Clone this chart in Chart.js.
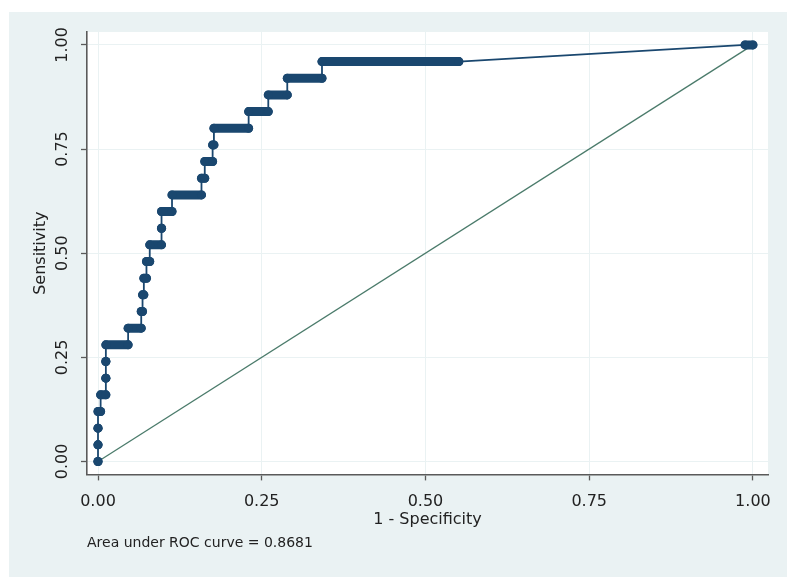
<!DOCTYPE html>
<html><head><meta charset="utf-8">
<script src="https://cdn.jsdelivr.net/npm/chart.js@4/dist/chart.umd.min.js"></script>
<style>html,body{margin:0;padding:0;background:#fff}canvas{display:block}</style>
</head><body>
<canvas id="c" width="800" height="588"></canvas>
<script>
// Sensitivity levels of the empirical ROC curve (25 positives -> steps of 0.04)
const sensitivity = [0, 0.04, 0.08, 0.12, 0.16, 0.20, 0.24, 0.28, 0.32, 0.36, 0.40, 0.44, 0.48,
  0.52, 0.56, 0.60, 0.64, 0.68, 0.72, 0.76, 0.80, 0.84, 0.88, 0.92, 0.96, 1.00];
// 1 - specificity where each sensitivity level starts and ends
const fprStart = [0, 0, 0, 0, 0.004, 0.012, 0.012, 0.012, 0.046, 0.066, 0.068, 0.070, 0.074,
  0.079, 0.097, 0.097, 0.113, 0.158, 0.163, 0.175, 0.177, 0.230, 0.260, 0.289, 0.342, 0.988];
const fprEnd = [0, 0, 0, 0.004, 0.012, 0.012, 0.012, 0.046, 0.066, 0.068, 0.070, 0.074, 0.079,
  0.097, 0.097, 0.113, 0.158, 0.163, 0.175, 0.177, 0.230, 0.260, 0.289, 0.342, 0.551, 1.000];
// Reference (chance) line
const refX = [0, 1];
const refY = [0, 1];
// Axis ticks
const tickValues = [0, 0.25, 0.5, 0.75, 1];
const tickLabels = ['0.00', '0.25', '0.50', '0.75', '1.00'];
const xTitle = '1 - Specificity';
const yTitle = 'Sensitivity';
const noteText = 'Area under ROC curve = 0.8681';

const NAVY = '#1a476f';
const REFCOL = '#4b7b6b';
const AXIS = '#5a5a5a';
const TEXT = '#222222';
const PANEL = '#eaf2f3';
const FONT = 'DejaVu Sans';

const runData = [];
const rocData = [];
sensitivity.forEach((s, i) => {
  runData.push({x: fprStart[i], y: s}, {x: fprEnd[i], y: s}, {x: fprEnd[i], y: null});
  rocData.push({x: fprStart[i], y: s}, {x: fprEnd[i], y: s});
});
const refData = refX.map((x, i) => ({x, y: refY[i]}));

const panelPlugin = {
  id: 'panel',
  beforeDraw(chart) {
    const {ctx, chartArea: a} = chart;
    ctx.save();
    ctx.fillStyle = '#ffffff';
    ctx.fillRect(0, 0, chart.width, chart.height);
    ctx.fillStyle = PANEL;
    ctx.fillRect(9, 12, 778, 565);
    ctx.fillStyle = '#ffffff';
    ctx.fillRect(a.left, a.top, a.right - a.left, a.bottom - a.top);
    ctx.restore();
  }
};

const setTicks = s => { s.ticks = tickValues.map(v => ({value: v})); };

new Chart(document.getElementById('c'), {
  type: 'line',
  data: {
    datasets: [
      {
        label: 'markers', data: runData, borderColor: NAVY, backgroundColor: NAVY,
        borderWidth: 9, borderCapStyle: 'round', borderJoinStyle: 'round',
        pointRadius: 4.5, pointBorderWidth: 0, pointBackgroundColor: NAVY,
        spanGaps: false, tension: 0, fill: false
      },
      {
        label: 'roc', data: rocData, borderColor: NAVY, borderWidth: 1.8,
        pointRadius: 0, tension: 0, fill: false
      },
      {
        label: 'reference', data: refData, borderColor: REFCOL, borderWidth: 1.3,
        pointRadius: 0, tension: 0, fill: false
      }
    ]
  },
  options: {
    responsive: false,
    animation: false,
    devicePixelRatio: 1,
    layout: {padding: {left: 20, top: 32, right: 32, bottom: 30}},
    plugins: {
      legend: {display: false},
      tooltip: {enabled: false},
      title: {
        display: true, text: noteText, position: 'bottom', align: 'start', fullSize: false,
        color: TEXT, font: {family: FONT, size: 14, weight: 'normal'},
        padding: {top: 0, bottom: 6}
      }
    },
    scales: {
      x: {
        type: 'linear', min: -0.0168, max: 1.023,
        afterBuildTicks: setTicks,
        afterFit(s) { s.height = 60.8; },
        ticks: {
          callback: (v, i) => tickLabels[i], color: TEXT, padding: 12,
          maxRotation: 0, autoSkip: false, font: {family: FONT, size: 16}
        },
        grid: {color: PANEL, lineWidth: 1, tickLength: 6, tickColor: AXIS, tickWidth: 1.3},
        border: {color: AXIS, width: 1.6},
        title: {display: true, text: xTitle, color: TEXT, font: {family: FONT, size: 16},
          padding: {top: 0, bottom: 6}}
      },
      y: {
        type: 'linear', min: -0.031, max: 1.031,
        afterBuildTicks: setTicks,
        afterFit(s) { s.width = 67; },
        ticks: {
          callback: (v, i) => tickLabels[i], color: TEXT, padding: 0,
          minRotation: 90, maxRotation: 90, crossAlign: 'center', autoSkip: false,
          font: {family: FONT, size: 16}
        },
        grid: {color: PANEL, lineWidth: 1, tickLength: 6, tickColor: AXIS, tickWidth: 1.3},
        border: {color: AXIS, width: 1.6},
        title: {display: true, text: yTitle, color: TEXT, font: {family: FONT, size: 16},
          padding: {top: 11, bottom: 0}}
      }
    }
  },
  plugins: [panelPlugin]
});
</script>
</body></html>
